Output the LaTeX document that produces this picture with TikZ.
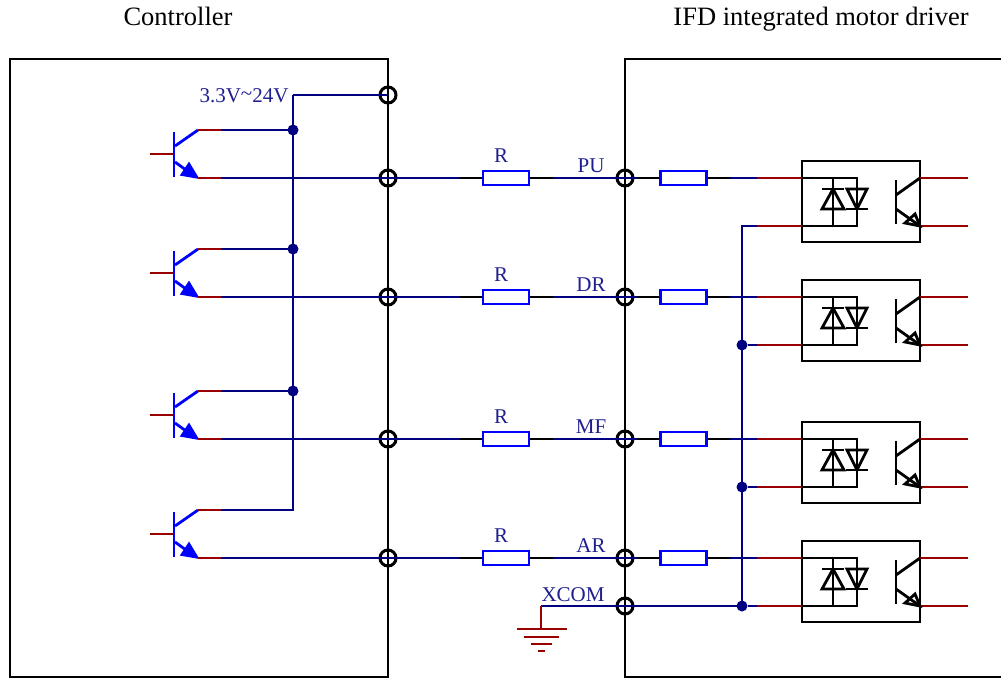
\documentclass[tikz,border=0pt]{standalone}
\usepackage{fontspec}
\setmainfont{Liberation Serif}
\definecolor{wirenavy}{HTML}{000080}
\definecolor{wirered}{HTML}{990000}
\definecolor{labelnavy}{HTML}{1F1F8F}
\tikzset{
    term/.style = {circle, draw = black, line width = 3pt, minimum size = 16pt, inner sep = 0pt, outer sep = 0pt},
    res/.style = {rectangle, fill = white, draw = blue, line width = 2.8pt, minimum width = 46pt, minimum height = 14pt, inner sep = 0pt, outer sep = 0pt},
    opto/.style = {rectangle, draw = black, line width = 2.8pt, minimum width = 118pt, minimum height = 81pt, inner sep = 0pt, outer sep = 0pt},
    dot/.style = {circle, fill = wirenavy, minimum size = 11pt, inner sep = 0pt, outer sep = 0pt},
    navy/.style = {draw = wirenavy, line width = 2.8pt},
    redw/.style = {draw = wirered, line width = 2.8pt},
    blk/.style = {draw = black, line width = 2.8pt},
    sym/.style = {draw = blue, line width = 2.8pt},
    lab/.style = {text = labelnavy, font = \fontsize{21}{24}\selectfont, inner sep = 0pt},
    title/.style = {text = black, font = \fontsize{26.5}{30}\selectfont, inner sep = 0pt, anchor = base}
}
\begin{document}
\begin{tikzpicture}[x = 1pt, y = -1pt]
    \useasboundingbox (0,0) rectangle (1001,680);

    \node[title] (ctrltitle) at (178,25) {Controller};
    \node[title] (drvtitle) at (821,25) {IFD integrated motor driver};

    % housings
    \node[draw = black, line width = 2.8pt, minimum width = 378pt, minimum height = 618pt, inner sep = 0pt] (ctrlbox) at (199,368) {};
    \coordinate (drvtr) at (1001,59);
    \coordinate (drvtl) at (625,59);
    \coordinate (drvbl) at (625,677);
    \coordinate (drvbr) at (1001,677);
    \draw[blk] (drvtr) -- (drvtl) -- (drvbl) -- (drvbr);

    % supply rail
    \coordinate (vcc) at (293,95);
    \node[term] (termv) at (388,95) {};
    \draw[navy] (termv.center) -- (vcc);
    \node[lab] (vcclabel) at (244,96) {3.3V\raisebox{.25ex}{\char`~}24V};

    % four channels
    \foreach \yy/\sig [count = \ii] in {178/PU, 297/DR, 439/MF, 558/AR}
        {
            % transistor on the controller side
            \coordinate (base\ii) at (150,\yy-24);
            \coordinate (gate\ii) at (174,\yy-24);
            \coordinate (coll\ii) at (198,\yy-48);
            \coordinate (collr\ii) at (221,\yy-48);
            \coordinate (emit\ii) at (198,\yy);
            \coordinate (emitr\ii) at (221,\yy);
            \draw[redw] (base\ii) -- (gate\ii);
            \draw[sym] (174,\yy-46) -- (174,\yy-1);
            \draw[sym] (175,\yy-32) -- (coll\ii);
            \draw[sym] (175,\yy-16) -- (186,\yy-8);
            \filldraw[blue, line width = 1.5pt] (emit\ii) -- (181,\yy-3) -- (189,\yy-15) -- cycle;
            \draw[redw] (coll\ii) -- (collr\ii);
            \draw[redw] (emit\ii) -- (emitr\ii);

            % line to the driver
            \node[term] (terml\ii) at (388,\yy) {};
            \node[term] (termr\ii) at (625,\yy) {};
            \node[res] (resl\ii) at (506,\yy) {};
            \node[res] (resr\ii) at (683.5,\yy) {};
            \node[lab] (rlab\ii) at (501,\yy-22) {R};
            \node[lab] (sig\ii) at (591,\yy-12) {\sig};
            \coordinate (ljoin\ii) at (460,\yy);
            \coordinate (mjoin\ii) at (553,\yy);
            \coordinate (rjoin\ii) at (637,\yy);
            \coordinate (ojoin\ii) at (730,\yy);
            \coordinate (ored\ii) at (757,\yy);
            \draw[navy] (emitr\ii) -- (ljoin\ii);
            \draw[blk] (ljoin\ii) -- (resl\ii.west);
            \draw[blk] (resl\ii.east) -- (mjoin\ii);
            \draw[navy] (mjoin\ii) -- (rjoin\ii);
            \draw[blk] (rjoin\ii) -- (resr\ii.west);
            \draw[blk] (resr\ii.east) -- (ojoin\ii);
            \draw[navy] (ojoin\ii) -- (ored\ii);
            \node[res] at (resl\ii) {};
            \node[res] at (resr\ii) {};

            % optocoupler
            \node[opto] (opto\ii) at (861,\yy+23.5) {};
            \coordinate (oin\ii) at (802,\yy);
            \coordinate (oret\ii) at (802,\yy+48);
            \coordinate (oredb\ii) at (757,\yy+48);
            \coordinate (oout\ii) at (920,\yy);
            \coordinate (ooutb\ii) at (920,\yy+48);
            \draw[redw] (ored\ii) -- (oin\ii);
            \draw[redw] (oredb\ii) -- (oret\ii);
            \draw[redw] (oout\ii) -- (968,\yy);
            \draw[redw] (ooutb\ii) -- (968,\yy+48);
            \draw[blk] (oin\ii) -- (857,\yy) -- (857,\yy+48) -- (oret\ii);
            \draw[blk] (833,\yy) -- (833,\yy+48);
            \draw[blk] (822,\yy+11) -- (844,\yy+11);
            \draw[blk, line join = miter] (833,\yy+11) -- (822,\yy+31) -- (844,\yy+31) -- cycle;
            \draw[blk] (846,\yy+31) -- (868,\yy+31);
            \draw[blk, line join = miter] (857,\yy+31) -- (847,\yy+11) -- (867,\yy+11) -- cycle;
            \draw[blk] (896,\yy+2) -- (896,\yy+46);
            \draw[blk] (896,\yy+17) -- (oout\ii);
            \draw[blk] (896,\yy+31) -- (ooutb\ii);
            \draw[blk, line join = miter] (ooutb\ii) -- (905,\yy+45) -- (915,\yy+36) -- cycle;
        }

    % common rail of the collectors
    \coordinate (railend) at (293,510);
    \draw[navy] (vcc) -- (railend) -- (collr4);
    \node[dot] (vdot1) at (293,130) {};
    \node[dot] (vdot2) at (293,249) {};
    \node[dot] (vdot3) at (293,391) {};
    \draw[navy] (collr1) -- (vdot1);
    \draw[navy] (collr2) -- (vdot2);
    \draw[navy] (collr3) -- (vdot3);

    % xcom return
    \node[term] (termx) at (625,606) {};
    \node[dot] (xdot1) at (742,345) {};
    \node[dot] (xdot2) at (742,487) {};
    \node[dot] (xdot3) at (742,606) {};
    \coordinate (xtop) at (742,226);
    \coordinate (xleft) at (541,606);
    \coordinate (gnd) at (541,629);
    \draw[navy] (oredb1) -- (xtop) -- (xdot3);
    \draw[navy] (xleft) -- (xdot3);
    \draw[navy] (xdot1) -- (oredb2);
    \draw[navy] (xdot2) -- (oredb3);
    \draw[navy] (xdot3) -- (oredb4);
    \draw[redw] (xleft) -- (gnd);
    \draw[redw] (517,629) -- (567,629);
    \draw[redw] (524,637) -- (559,637);
    \draw[redw] (531,644) -- (552,644);
    \draw[redw] (538,651) -- (545,651);
    \node[lab] (xlabel) at (573,595) {XCOM};
\end{tikzpicture}
\end{document}
